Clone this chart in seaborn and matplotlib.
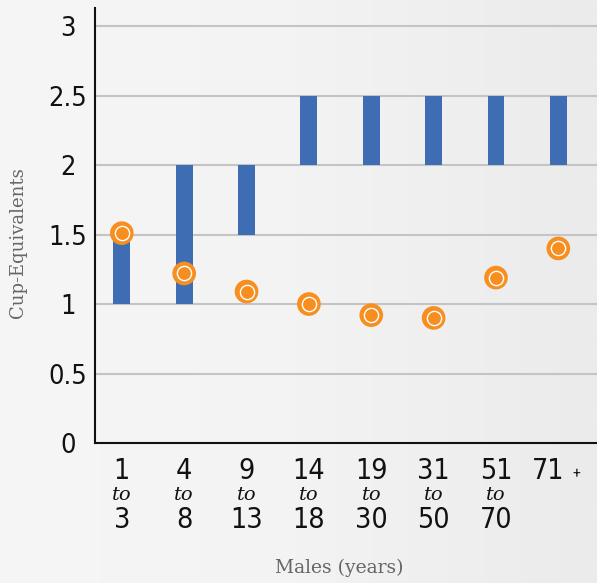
import numpy as np
import matplotlib
matplotlib.use("Agg")
import matplotlib.pyplot as plt
import matplotlib.transforms as mtransforms
import matplotlib.font_manager as fm
import seaborn as sns
import pandas as pd

# ---- data ----
age_start = ["1", "4", "9", "14", "19", "31", "51", "71"]
age_end = ["3", "8", "13", "18", "30", "50", "70", ""]
range_low = [1.0, 1.0, 1.5, 2.0, 2.0, 2.0, 2.0, 2.0]
range_high = [1.5, 2.0, 2.0, 2.5, 2.5, 2.5, 2.5, 2.5]
intake = [1.51, 1.22, 1.09, 1.00, 0.92, 0.90, 1.19, 1.40]
y_ticks = [0, 0.5, 1, 1.5, 2, 2.5, 3]
y_tick_labels = ["0", "0.5", "1", "1.5", "2", "2.5", "3"]

cats = [f"{a}-{b}" if b else f"{a}+" for a, b in zip(age_start, age_end)]
df = pd.DataFrame({"group": cats, "low": range_low,
                   "height": np.array(range_high) - np.array(range_low),
                   "intake": intake})

sns.set_theme(style="white")
plt.rcParams["font.family"] = ["Roboto", "DejaVu Sans"]

# look for an upright condensed sans face, if one is installed
cond = None
for f in fm.fontManager.ttflist:
    nm = f.name.lower()
    fn = f.fname.lower()
    st = str(f.stretch).lower()
    if not ("condensed" in nm or "narrow" in nm or "condensed" in fn or "narrow" in fn
            or st in ("condensed", "semi-condensed")):
        continue
    if str(f.style).lower() != "normal" or "italic" in fn or "oblique" in fn:
        continue
    if str(f.weight).lower() not in ("400", "normal", "regular"):
        continue
    if "serif" in nm and "sans" not in nm:
        continue
    cond = f.fname
    break
if cond:
    NUMPROP = dict(fontproperties=fm.FontProperties(fname=cond, size=20.5))
    TICKPROP = dict(fontproperties=fm.FontProperties(fname=cond, size=19.5))
else:
    NUMPROP = dict(fontsize=17)
    TICKPROP = dict(fontsize=16)

BLUE = "#3e6db4"
ORANGE = "#f68f1f"

fig = plt.figure(figsize=(5.97, 5.83), dpi=100)
bg = fig.add_axes([0, 0, 1, 1], zorder=-10)
grad = np.linspace(0, 1, 256)[None, :]
bg.imshow(grad, aspect="auto", cmap=matplotlib.colors.LinearSegmentedColormap.from_list(
    "g", ["#f6f6f6", "#f3f3f3", "#ebebeb"]), extent=[0, 1, 0, 1])
bg.axis("off")

ax = fig.add_axes([95 / 597, 1 - 443 / 583, 1 - 95 / 597, (443 - 8) / 583])
ax.patch.set_alpha(0)

sns.barplot(data=df, x="group", y="height", bottom=df["low"], color=BLUE,
            width=0.27, ax=ax, saturation=1, zorder=3, linewidth=0)
sns.scatterplot(data=df, x="group", y="intake", s=290, color=ORANGE,
                edgecolor="none", ax=ax, zorder=4)
sns.scatterplot(data=df, x="group", y="intake", s=105, color=ORANGE,
                edgecolor="white", linewidth=1.0, ax=ax, zorder=5)

ax.set_xlim(-0.43, 7.62)
ax.set_ylim(0, 3.13)
ax.set_yticks(y_ticks)
ax.set_yticklabels([""] * len(y_ticks))
ax.yaxis.grid(True, color="#c4c4c4", linewidth=1.5)
ax.set_axisbelow(True)
ax.tick_params(axis="both", length=0)
ax.set_xticks(range(len(cats)))
ax.set_xticklabels([""] * len(cats))
ax.set_xlabel("")
ax.set_ylabel("")

for s in ["top", "right"]:
    ax.spines[s].set_visible(False)
for s in ["left", "bottom"]:
    ax.spines[s].set_color("#111111")
    ax.spines[s].set_linewidth(1.5)

# y tick labels, centred in the margin like the reference
ytrans = mtransforms.blended_transform_factory(fig.transFigure, ax.transData)
ytrans = mtransforms.offset_copy(ytrans, fig=fig, x=0, y=-3, units="dots")
for v, lab in zip(y_ticks, y_tick_labels):
    ax.text(68 / 597, v, lab, transform=ytrans, ha="center", va="center",
            color="#111111", clip_on=False, **TICKPROP)

trans = mtransforms.blended_transform_factory(ax.transData, fig.transFigure)
for i, (a, b) in enumerate(zip(age_start, age_end)):
    if b:
        ax.text(i, 1 - 471 / 583, a, transform=trans, ha="center", va="center",
                color="#111111", **NUMPROP)
        ax.text(i, 1 - 495 / 583, "to", transform=trans, ha="center", va="center",
                fontsize=14, color="#111111", family="DejaVu Serif",
                style="italic")
        ax.text(i, 1 - 520 / 583, b, transform=trans, ha="center", va="center",
                color="#111111", **NUMPROP)
    else:
        ax.text(i - 0.16, 1 - 471 / 583, a, transform=trans, ha="center", va="center",
                color="#111111", **NUMPROP)
        ax.text(i + 0.29, 1 - 474 / 583, "+", transform=trans, ha="center", va="center",
                fontsize=10, color="#111111")

fig.text(18 / 597, 1 - 243 / 583, "Cup-Equivalents", rotation=90, ha="center",
         va="center", fontsize=13, color="#666666", family="DejaVu Serif")
fig.text(339 / 597, 1 - 568 / 583, "Males (years)", ha="center", va="center",
         fontsize=13.5, color="#666666", family="DejaVu Serif")

fig.savefig("out.png", dpi=100)
